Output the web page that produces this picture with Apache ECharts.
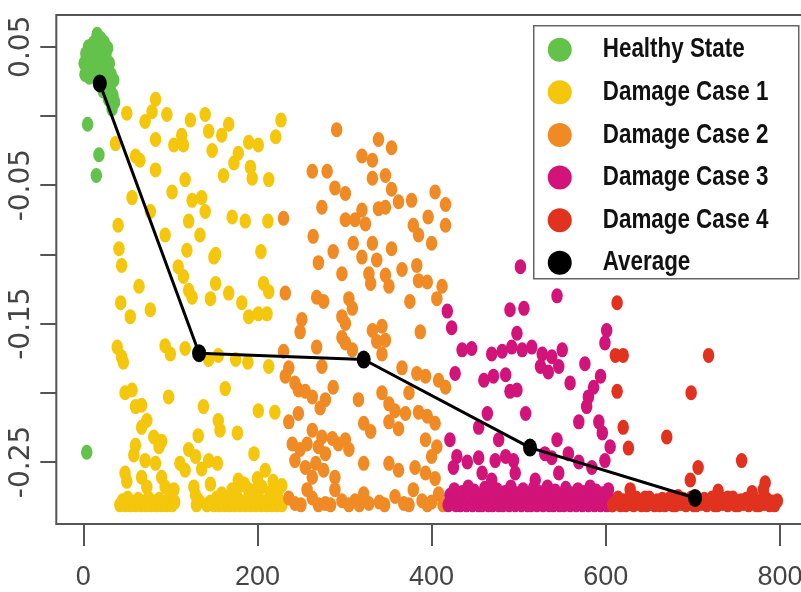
<!DOCTYPE html>
<html>
<head>
<meta charset="utf-8">
<script src="https://cdn.jsdelivr.net/npm/echarts@6/dist/echarts.min.js"></script>
<style>
html,body{margin:0;padding:0;background:#fff;}
#chart{width:801px;height:592px;}
</style>
</head>
<body>
<div id="chart"></div>
<script>
// ---- tick labels ----
const xTickValues = [0, 200, 400, 600, 800];
const yTickValues = [0.05, 0, -0.05, -0.1, -0.15, -0.2, -0.25];
const yLabelValues = [0.05, -0.05, -0.15, -0.25];
const seriesNames = ['Healthy State', 'Damage Case 1', 'Damage Case 2', 'Damage Case 3', 'Damage Case 4', 'Average'];

// ---- data: [sample index, value] ----
const healthy = [
[1,0.038],[2,0.030],[3,0.045],[4,-0.243],[5,-0.006],[6,0.050],[7,0.028],[8,0.042],[9,0.034],[10,0.047],
[11,0.038],[12,0.053],[13,0.029],[14,0.044],[15,-0.043],[16,0.059],[17,0.036],[18,-0.028],[19,0.050],[20,0.056],
[21,0.040],[22,0.047],[23,0.018],[24,0.053],[25,0.033],[26,0.044],[27,0.024],[28,0.049],[29,0.012],[30,0.038],
[31,0.020],[32,0.030],[33,0.005],[34,0.015],[35,0.026],[36,0.010]
];
const damage1 = [
[37,-0.020],[40,-0.079],[41,-0.096],[44,-0.108],[43,-0.135],[50,0.002],[54,-0.145],[56,-0.059],[60,-0.029],[64,-0.123],
[65,-0.032],[71,-0.004],[77,-0.069],[77,-0.140],[79,0.003],[83,0.012],[83,-0.017],[83,-0.039],[94,-0.086],[96,0.001],
[102,-0.055],[104,-0.021],[109,-0.109],[113,-0.014],[115,-0.021],[115,-0.116],[117,-0.046],[119,-0.097],[121,-0.076],[121,-0.126],
[123,-0.003],[125,-0.061],[125,-0.131],[134,-0.086],[136,-0.059],[140,0.001],[140,-0.069],[144,-0.011],[146,-0.132],[148,-0.025],
[150,-0.102],[152,-0.100],[152,-0.121],[159,-0.014],[161,-0.043],[167,-0.006],[167,-0.128],[171,-0.073],[173,-0.034],[178,-0.027],
[182,-0.135],[186,-0.076],[190,-0.019],[190,-0.145],[192,-0.037],[194,-0.045],[201,-0.021],[204,-0.098],[207,-0.121],[212,-0.076],
[211,-0.143],[201,-0.143],[213,-0.046],[213,-0.127],[221,-0.015],[227,-0.003],
[39,-0.167],[44,-0.174],[46,-0.178],[94,-0.166],[100,-0.172],[117,-0.168],[144,-0.176],[155,-0.173],[175,-0.176],[189,-0.178],
[213,-0.181],[163,-0.197],[48,-0.200],[56,-0.198],[98,-0.203],[60,-0.210],[67,-0.209],[138,-0.210],[155,-0.220],[157,-0.227],
[201,-0.213],[220,-0.214],[73,-0.220],[67,-0.225],[81,-0.232],[90,-0.235],[87,-0.239],[132,-0.231],[177,-0.229],[60,-0.238],
[58,-0.245],[121,-0.241],[129,-0.246],[196,-0.244],[71,-0.249],[83,-0.251],[111,-0.251],[117,-0.256],[136,-0.255],[144,-0.249],
[154,-0.251],[209,-0.256],[48,-0.258],[50,-0.264],[67,-0.261],[73,-0.268],[90,-0.261],[94,-0.268],[104,-0.270],[127,-0.268],
[129,-0.274],[146,-0.266],[159,-0.273],[171,-0.270],[180,-0.267],[190,-0.270],[195,-0.271],[205,-0.268],[215,-0.272],[224,-0.270],
[178,-0.263],[185,-0.266],[200,-0.262],[218,-0.264],[228,-0.267],
[42,-0.281],[45,-0.278],[48,-0.281],[51,-0.276],[54,-0.281],[57,-0.279],[60,-0.281],[63,-0.277],[66,-0.281],[69,-0.279],
[72,-0.281],[75,-0.276],[78,-0.281],[81,-0.279],[84,-0.281],[87,-0.277],[90,-0.281],[93,-0.279],[96,-0.281],[99,-0.277],
[102,-0.281],[105,-0.279],[130,-0.281],[133,-0.278],[142,-0.281],[146,-0.279],[150,-0.281],[153,-0.276],[156,-0.281],[159,-0.279],
[162,-0.281],[165,-0.277],[168,-0.281],[171,-0.279],[174,-0.281],[177,-0.276],[180,-0.281],[183,-0.279],[186,-0.281],[189,-0.277],
[192,-0.281],[195,-0.279],[198,-0.281],[201,-0.276],[204,-0.281],[207,-0.279],[210,-0.281],[213,-0.277],[216,-0.281],[219,-0.279],
[222,-0.281],[225,-0.278],[228,-0.281]
];
const damage2 = [
[291,-0.010],[339,-0.017],[354,-0.023],[320,-0.029],[332,-0.032],[263,-0.040],[280,-0.040],[332,-0.045],[347,-0.043],[289,-0.052],
[301,-0.056],[354,-0.053],[362,-0.062],[404,-0.055],[416,-0.064],[377,-0.061],[274,-0.066],[320,-0.068],[339,-0.067],[347,-0.066],
[301,-0.075],[312,-0.075],[324,-0.078],[230,-0.074],[396,-0.073],[416,-0.079],[379,-0.079],[385,-0.086],[264,-0.087],[310,-0.092],
[332,-0.092],[400,-0.092],[287,-0.098],[354,-0.096],[320,-0.102],[337,-0.104],[270,-0.106],[297,-0.114],[328,-0.114],[347,-0.115],
[366,-0.111],[383,-0.108],[385,-0.119],[395,-0.120],[330,-0.121],[351,-0.123],[412,-0.123],[406,-0.132],[232,-0.128],[268,-0.131],
[276,-0.134],[305,-0.132],[309,-0.139],[375,-0.134],[251,-0.147],[249,-0.156],[297,-0.145],[301,-0.150],[387,-0.156],[332,-0.155],
[343,-0.152],[347,-0.162],[337,-0.163],[297,-0.160],[301,-0.164],[268,-0.167],[230,-0.170],[309,-0.169],[343,-0.172],[274,-0.181],
[236,-0.182],[366,-0.182],[383,-0.186],[393,-0.188],[408,-0.191],[416,-0.196],[232,-0.188],[243,-0.193],[247,-0.198],[255,-0.199],
[263,-0.203],[287,-0.196],[278,-0.205],[272,-0.211],[316,-0.205],[343,-0.200],[351,-0.208],[374,-0.200],[358,-0.213],[370,-0.215],
[385,-0.214],[395,-0.217],[404,-0.222],[236,-0.221],[247,-0.215],[322,-0.222],[330,-0.228],[351,-0.221],[362,-0.226],[263,-0.227],
[274,-0.232],[286,-0.233],[293,-0.237],[240,-0.237],[249,-0.241],[257,-0.237],[270,-0.239],[278,-0.244],[301,-0.234],[305,-0.241],
[322,-0.251],[393,-0.234],[406,-0.239],[400,-0.246],[243,-0.249],[255,-0.254],[267,-0.251],[276,-0.256],[351,-0.251],[362,-0.256],
[381,-0.254],[393,-0.258],[263,-0.261],[289,-0.261],[404,-0.262],
[236,-0.276],[243,-0.280],[257,-0.270],[263,-0.276],[278,-0.280],[289,-0.270],[297,-0.278],[312,-0.278],[322,-0.273],[328,-0.280],
[358,-0.275],[368,-0.280],[379,-0.270],[389,-0.278],[400,-0.279],[408,-0.273],[250,-0.281],[270,-0.281],[284,-0.281],[305,-0.281],
[317,-0.281],[340,-0.279],[346,-0.281],[374,-0.281],[395,-0.281],[413,-0.281]
];
const damage3 = [
[502,-0.109],[544,-0.130],[490,-0.140],[506,-0.139],[418,-0.141],[423,-0.153],[498,-0.157],[601,-0.155],[599,-0.164],[435,-0.169],
[446,-0.168],[469,-0.172],[481,-0.170],[492,-0.167],[504,-0.169],[515,-0.167],[527,-0.172],[538,-0.174],[550,-0.169],[525,-0.181],
[534,-0.185],[546,-0.181],[576,-0.179],[427,-0.186],[460,-0.191],[471,-0.188],[485,-0.187],[559,-0.193],[594,-0.188],[586,-0.196],
[490,-0.199],[498,-0.198],[580,-0.203],[578,-0.210],[508,-0.215],[464,-0.215],[454,-0.225],[569,-0.221],[592,-0.221],[596,-0.229],
[421,-0.234],[477,-0.234],[544,-0.234],[605,-0.239],[429,-0.246],[425,-0.254],[441,-0.250],[454,-0.247],[473,-0.249],[485,-0.246],
[494,-0.249],[530,-0.244],[538,-0.247],[557,-0.244],[569,-0.250],[584,-0.254],[599,-0.249],[458,-0.258],[469,-0.263],[496,-0.258],
[519,-0.263],[546,-0.258],
[419,-0.281],[421,-0.274],[423,-0.279],[426,-0.270],[428,-0.281],[430,-0.276],[433,-0.281],[435,-0.272],[437,-0.278],[440,-0.281],
[442,-0.268],[444,-0.275],[447,-0.281],[449,-0.271],[451,-0.279],[454,-0.281],[456,-0.274],[458,-0.281],[461,-0.269],[463,-0.277],
[465,-0.281],[468,-0.273],[470,-0.281],[472,-0.278],[475,-0.270],[477,-0.281],[479,-0.275],[482,-0.281],[484,-0.272],[486,-0.279],
[489,-0.281],[491,-0.268],[493,-0.276],[496,-0.281],[498,-0.273],[500,-0.280],[503,-0.281],[505,-0.270],[507,-0.277],[510,-0.281],
[512,-0.274],[514,-0.281],[517,-0.269],[519,-0.278],[521,-0.281],[524,-0.272],[526,-0.280],[528,-0.281],[531,-0.275],[533,-0.268],
[535,-0.281],[538,-0.277],[540,-0.281],[542,-0.271],[545,-0.279],[547,-0.281],[549,-0.274],[552,-0.281],[554,-0.269],[556,-0.277],
[559,-0.281],[561,-0.273],[563,-0.280],[566,-0.281],[568,-0.270],[570,-0.276],[573,-0.281],[575,-0.272],[577,-0.279],[580,-0.281],
[582,-0.268],[584,-0.275],[587,-0.281],[589,-0.271],[591,-0.278],[594,-0.281],[596,-0.273],[598,-0.280],[601,-0.281],[603,-0.270],
[605,-0.277],[607,-0.281]
];
const damage4 = [
[613,-0.135],[611,-0.173],[620,-0.173],[718,-0.173],[613,-0.199],[698,-0.200],[620,-0.225],[670,-0.232],[626,-0.240],[756,-0.249],
[706,-0.254],[697,-0.263],[783,-0.265],[628,-0.270],[729,-0.271],[768,-0.272],[781,-0.270],[645,-0.276],[683,-0.275],[740,-0.276],
[608,-0.281],[611,-0.279],[614,-0.276],[617,-0.281],[620,-0.278],[623,-0.281],[626,-0.277],[629,-0.280],[632,-0.281],[635,-0.276],
[638,-0.279],[641,-0.281],[644,-0.278],[647,-0.281],[650,-0.276],[653,-0.280],[656,-0.281],[659,-0.278],[662,-0.281],[665,-0.277],
[668,-0.281],[671,-0.279],[674,-0.276],[677,-0.281],[680,-0.281],[683,-0.278],[686,-0.280],[689,-0.277],[692,-0.281],[695,-0.279],
[698,-0.276],[701,-0.281],[704,-0.281],[707,-0.278],[710,-0.280],[713,-0.277],[716,-0.281],[719,-0.279],[722,-0.276],[725,-0.281],
[728,-0.281],[731,-0.278],[734,-0.280],[737,-0.277],[740,-0.281],[743,-0.279],[746,-0.276],[749,-0.281],[752,-0.281],[755,-0.278],
[758,-0.280],[761,-0.277],[764,-0.281],[767,-0.279],[770,-0.276],[773,-0.281],[776,-0.281],[779,-0.278],[782,-0.280],[785,-0.277],
[788,-0.281],[791,-0.279],[794,-0.281],[797,-0.278]
];
const averageX = [19, 133, 322, 513, 702.5];
const averageY = [0.0235, -0.1714, -0.176, -0.2396, -0.276];

// ---- styling ----
const colors = ['#63c24a', '#f4c60c', '#f08a24', '#d1137a', '#e1321f', '#000000'];
const pointSize = [11.5, 15];

const chart = echarts.init(document.getElementById('chart'), null, {renderer: 'canvas'});

const scatterSets = [healthy, damage1, damage2, damage3, damage4];
const series = scatterSets.map((d, i) => ({
  name: seriesNames[i],
  type: 'scatter',
  data: d,
  symbol: 'circle',
  symbolSize: pointSize,
  itemStyle: {color: colors[i], opacity: 1},
  emphasis: {disabled: true},
  z: 2 + i,
  animation: false
}));
series.push({
  name: seriesNames[5],
  type: 'line',
  data: averageX.map((x, i) => [x, averageY[i]]),
  symbol: 'circle',
  symbolSize: [14, 18],
  showSymbol: true,
  lineStyle: {color: '#000', width: 3},
  itemStyle: {color: '#000'},
  emphasis: {disabled: true},
  z: 10,
  animation: false
});

// legend box (condensed text like the original), drawn as graphic elements
const legendLeft = 533, legendTop = 25, legendW = 265, legendH = 253, rowGap = 42.6;
const legendChildren = [{
  type: 'rect',
  shape: {x: 0, y: 0, width: legendW, height: legendH},
  style: {fill: '#fff', stroke: '#666', lineWidth: 1.5}
}];
seriesNames.forEach((name, i) => {
  const cy = 24 + i * rowGap;
  legendChildren.push({
    type: 'circle',
    shape: {cx: 26, cy: cy, r: 12},
    style: {fill: colors[i]}
  });
  legendChildren.push({
    type: 'text',
    x: 69, y: cy, scaleX: 0.8,
    style: {
      text: name, x: 0, y: 0,
      verticalAlign: 'middle', align: 'left',
      fill: '#111',
      font: 'bold 28px "Liberation Sans", Arial, sans-serif'
    }
  });
});

const option = {
  backgroundColor: '#ffffff',
  animation: false,
  grid: {
    left: 56.3, width: 751.5, top: 15, bottom: 68,
    outerBoundsMode: 'none',
    containLabel: false,
    show: true, borderColor: '#555', borderWidth: 2, backgroundColor: 'transparent'
  },
  xAxis: {
    type: 'value',
    min: -30.96, max: 831.96,
    axisLine: {show: false, onZero: false},
    splitLine: {show: false},
    axisTick: {show: true, length: 22, lineStyle: {color: '#555', width: 2}, customValues: xTickValues},
    axisLabel: {
      customValues: xTickValues,
      margin: 40,
      color: '#444',
      fontFamily: '"Liberation Sans", Arial, sans-serif',
      fontSize: 27,
      formatter: v => String(v)
    }
  },
  yAxis: {
    type: 'value',
    min: -0.29482, max: 0.07292,
    axisLine: {show: false, onZero: false},
    splitLine: {show: false},
    axisTick: {show: true, length: 16, lineStyle: {color: '#555', width: 2}, customValues: yTickValues},
    axisLabel: {
      customValues: yLabelValues,
      rotate: 90,
      margin: 21,
      color: '#444',
      fontFamily: '"DejaVu Sans", sans-serif',
      fontSize: 28,
      formatter: v => v.toFixed(2)
    }
  },
  graphic: [{
    type: 'group',
    left: legendLeft, top: legendTop,
    z: 100,
    children: legendChildren
  }],
  series: series
};
chart.setOption(option);
</script>
</body>
</html>
